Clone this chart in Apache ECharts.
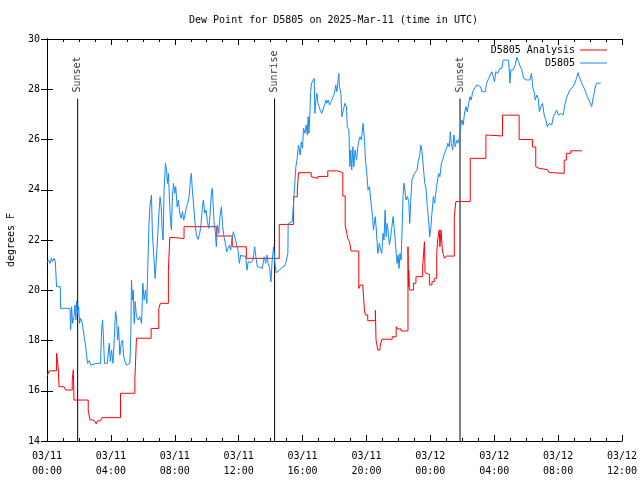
<!DOCTYPE html>
<html>
<head>
<meta charset="utf-8">
<script src="https://cdn.jsdelivr.net/npm/echarts@6/dist/echarts.min.js"></script>
<style>html,body{margin:0;padding:0;background:#fff}#c{width:640px;height:480px}</style>
</head>
<body>
<div id="c"></div>
<script>
// Hours since 03/11 00:00 UTC
const tickLabels = ['03/11\n00:00','03/11\n04:00','03/11\n08:00','03/11\n12:00','03/11\n16:00','03/11\n20:00','03/12\n00:00','03/12\n04:00','03/12\n08:00','03/12\n12:00'];
const seriesNames = ['D5805 Analysis', 'D5805'];
const eventNames = ['Sunset', 'Sunrise', 'Sunset'];
const eventHours = [1.92, 14.25, 25.86];
const eventTop = 27.63;

const analysis = [[0,16.56],[0.125,16.79],[0.6,17.49],[0.65,17.22],[0.71,16.83],[0.75,16.16],[1.06,16.23],[1.17,16.03],[1.58,16.43],[1.65,16.83],[1.69,15.63],[2.58,15.23],[2.69,14.84],[2.85,14.9],[2.94,14.77],[3.02,14.84],[3.08,14.68],[3.15,14.8],[3.35,14.84],[3.46,14.93],[4.6,15.9],[5.5,16.43],[5.6,18.09],[6.52,18.48],[7.0,19.28],[7.1,19.48],[7.6,20.8],[7.69,22.1],[7.94,22.06],[8.58,22.53],[10.6,22.16],[11.6,21.73],[12.48,21.27],[14.54,22.62],[15.44,23.72],[15.67,23.99],[15.75,24.68],[16.54,24.52],[16.65,24.45],[16.96,24.53],[17.58,24.75],[18.21,24.68],[18.52,23.75],[18.67,22.6],[18.77,22.26],[18.83,22.06],[18.94,21.93],[19.04,21.56],[19.52,20.07],[19.62,20.21],[19.77,20.2],[19.88,19.15],[19.94,19.02],[20.08,18.79],[20.56,19.2],[20.6,18.02],[20.71,17.62],[20.85,17.75],[20.96,18.05],[21.61,18.15],[21.86,18.55],[21.96,18.46],[22.17,18.38],[22.6,21.73],[22.63,20.14],[22.65,20.8],[22.69,20.01],[22.94,20.28],[23.1,20.54],[23.52,20.94],[23.63,21.93],[23.67,20.7],[23.73,20.63],[23.94,20.21],[24.1,20.34],[24.25,20.48],[24.4,21.47],[24.46,22.0],[24.56,22.4],[24.6,21.73],[24.67,22.4],[24.73,21.8],[24.77,21.53],[24.88,21.27],[24.98,21.36],[25.5,22.93],[25.6,23.53],[26.5,25.25],[27.48,26.18],[27.58,26.14],[28.52,26.97],[29.56,26.0],[30.4,25.7],[30.6,24.92],[30.65,24.85],[30.81,24.8],[31.33,24.76],[31.44,24.68],[31.65,24.65],[32.38,25.18],[32.52,25.45],[32.79,25.55],[33.5,25.55]];

const station = [[0.0,21.1],[0.1,21.2],[0.19,21.07],[0.27,21.27],[0.35,21.14],[0.44,21.27],[0.52,21.14],[0.58,21.14],[0.6,20.14],[0.83,20.14],[0.85,19.28],[1.44,19.28],[1.48,18.42],[1.54,19.35],[1.6,18.68],[1.69,18.95],[1.75,19.41],[1.81,18.82],[1.85,19.57],[1.92,19.08],[1.98,19.35],[2.04,18.68],[2.1,18.88],[2.19,18.75],[2.27,18.82],[2.33,18.15],[2.42,17.75],[2.48,17.42],[2.54,17.09],[2.65,17.2],[2.73,17.02],[2.94,17.06],[3.15,17.09],[3.35,17.09],[3.42,18.42],[3.48,18.82],[3.54,18.02],[3.6,17.09],[3.77,17.09],[3.9,17.89],[3.96,17.16],[4.04,17.62],[4.13,17.09],[4.21,18.02],[4.29,19.15],[4.35,18.95],[4.42,18.02],[4.48,18.55],[4.56,17.42],[4.65,17.89],[4.73,18.02],[4.79,17.42],[4.88,17.16],[4.98,17.02],[5.1,16.98],[5.19,17.09],[5.25,18.29],[5.29,20.41],[5.35,19.61],[5.4,20.01],[5.46,18.68],[5.52,19.55],[5.6,18.95],[5.71,18.82],[5.81,18.95],[5.92,18.68],[6.0,20.28],[6.08,19.61],[6.17,20.01],[6.25,19.48],[6.31,20.94],[6.38,22.5],[6.44,23.32],[6.54,23.79],[6.6,22.26],[6.69,21.33],[6.77,20.47],[6.85,20.54],[6.94,22.26],[7.02,23.19],[7.08,23.72],[7.15,23.32],[7.21,22.4],[7.27,22.0],[7.33,23.99],[7.42,25.05],[7.48,24.78],[7.54,24.25],[7.6,24.65],[7.67,23.59],[7.73,22.79],[7.79,22.4],[7.85,23.72],[7.92,24.25],[8.0,23.86],[8.06,24.12],[8.15,23.32],[8.23,23.59],[8.31,23.06],[8.4,22.86],[8.48,23.13],[8.56,22.79],[8.65,23.06],[8.73,23.32],[8.81,23.46],[8.9,23.72],[8.98,24.39],[9.04,24.65],[9.1,23.99],[9.19,23.32],[9.27,22.66],[9.35,22.2],[9.46,22.02],[9.56,22.26],[9.65,22.66],[9.73,23.32],[9.79,23.59],[9.88,23.06],[9.96,23.19],[10.04,22.73],[10.13,22.46],[10.21,22.99],[10.29,23.86],[10.35,24.05],[10.42,23.19],[10.48,22.53],[10.54,22.33],[10.6,21.73],[10.67,22.59],[10.75,22.26],[10.83,22.93],[10.92,23.32],[11.0,22.53],[11.08,22.13],[11.17,21.87],[11.25,21.53],[11.33,21.47],[11.42,21.8],[11.5,21.6],[11.58,22.06],[11.67,22.33],[11.79,22.33],[11.88,21.8],[11.96,21.6],[12.04,21.07],[12.13,21.4],[12.27,21.36],[12.44,21.36],[12.52,20.8],[12.6,21.14],[12.77,21.1],[12.9,21.2],[13.0,21.73],[13.08,21.33],[13.17,20.94],[13.31,20.91],[13.48,20.87],[13.6,21.33],[13.69,21.07],[13.77,21.4],[13.85,21.07],[13.94,20.87],[14.02,20.34],[14.1,21.2],[14.19,21.73],[14.27,21.07],[14.35,20.7],[14.44,20.65],[14.56,20.8],[14.69,20.9],[14.85,20.95],[14.98,21.14],[15.08,21.47],[15.1,22.66],[15.19,22.73],[15.35,22.73],[15.42,23.33],[15.5,24.12],[15.58,24.92],[15.65,25.18],[15.75,25.78],[15.85,25.38],[15.92,25.91],[16.0,25.65],[16.06,26.44],[16.15,26.25],[16.23,26.58],[16.3,26.18],[16.35,26.91],[16.4,26.25],[16.46,27.04],[16.5,27.84],[16.56,28.24],[16.65,28.3],[16.73,28.43],[16.77,27.04],[16.83,27.57],[16.9,27.84],[16.96,27.44],[17.04,27.31],[17.1,27.17],[17.2,27.04],[17.3,27.11],[17.38,27.37],[17.46,27.57],[17.52,27.44],[17.6,27.57],[17.69,27.37],[17.79,27.51],[17.9,27.44],[18.0,27.84],[18.08,28.17],[18.15,27.9],[18.21,28.3],[18.27,28.63],[18.31,28.1],[18.4,27.84],[18.46,26.91],[18.58,26.97],[18.65,27.44],[18.75,27.31],[18.8,26.51],[18.9,26.38],[18.96,24.92],[19.02,25.58],[19.08,24.79],[19.15,25.71],[19.21,24.92],[19.29,25.58],[19.38,25.18],[19.46,25.71],[19.54,25.98],[19.6,26.11],[19.69,25.98],[19.79,26.64],[19.88,25.98],[19.94,25.18],[20.04,24.52],[20.1,23.99],[20.19,24.12],[20.29,23.46],[20.38,22.93],[20.44,22.4],[20.55,22.93],[20.62,22.4],[20.71,21.47],[20.81,21.87],[20.88,21.6],[20.96,21.47],[21.04,22.27],[21.1,22.0],[21.17,23.19],[21.23,22.13],[21.29,22.66],[21.35,22.4],[21.44,21.8],[21.52,22.13],[21.58,22.46],[21.67,22.93],[21.75,22.4],[21.83,21.73],[21.92,21.07],[21.98,21.4],[22.04,20.87],[22.1,21.47],[22.17,21.2],[22.23,22.4],[22.29,23.73],[22.35,24.26],[22.42,23.92],[22.48,23.59],[22.56,23.73],[22.65,23.53],[22.71,22.66],[22.77,23.53],[22.85,24.39],[22.96,24.59],[23.06,24.65],[23.17,24.79],[23.25,25.18],[23.33,25.32],[23.4,25.78],[23.48,25.52],[23.56,24.92],[23.65,24.26],[23.73,24.06],[23.81,23.33],[23.9,22.73],[23.96,22.13],[24.02,22.4],[24.1,23.06],[24.19,23.73],[24.27,23.46],[24.35,23.92],[24.44,23.99],[24.52,24.65],[24.6,24.52],[24.69,25.05],[24.77,25.18],[24.85,25.38],[24.94,25.32],[25.02,25.65],[25.1,25.85],[25.19,25.71],[25.25,26.31],[25.31,25.85],[25.4,25.58],[25.48,26.18],[25.56,25.71],[25.65,25.98],[25.73,25.85],[25.81,26.05],[25.9,26.51],[25.98,26.78],[26.06,26.58],[26.15,27.1],[26.23,27.31],[26.31,27.1],[26.4,27.44],[26.48,27.7],[26.56,27.57],[26.65,27.9],[26.77,27.97],[26.9,28.17],[27.02,28.24],[27.15,28.1],[27.23,27.9],[27.44,27.9],[27.52,28.24],[27.65,28.43],[27.77,28.5],[27.85,28.7],[27.94,28.5],[28.02,28.3],[28.1,28.7],[28.23,28.63],[28.35,28.83],[28.48,28.83],[28.56,29.16],[28.73,29.16],[28.9,29.16],[28.98,28.24],[29.04,28.77],[29.19,28.77],[29.31,28.96],[29.42,29.27],[29.52,29.1],[29.63,28.9],[29.73,28.77],[29.85,28.43],[30.02,28.37],[30.23,28.37],[30.33,28.63],[30.42,28.04],[30.5,27.9],[30.56,27.57],[30.67,27.77],[30.75,27.64],[30.83,27.1],[30.92,27.31],[31.02,27.44],[31.13,26.97],[31.23,26.78],[31.33,26.51],[31.44,26.64],[31.6,26.58],[31.71,26.91],[31.81,26.97],[31.9,27.17],[32.02,26.97],[32.17,27.04],[32.31,26.97],[32.42,27.37],[32.52,27.64],[32.63,27.7],[32.73,27.97],[32.83,28.04],[32.94,28.1],[33.04,28.24],[33.15,28.43],[33.25,28.66],[33.33,28.5],[33.44,28.3],[33.63,28.04],[33.84,27.7],[34.1,27.31],[34.21,27.7],[34.31,28.04],[34.4,28.24],[34.67,28.24]];

const FONT = 'DejaVu Sans Mono';
const chart = echarts.init(document.getElementById('c'), null, {renderer: 'canvas'});

const axisLine = {show: true, lineStyle: {color: '#000', width: 1}};
const xCommon = {type: 'value', min: 0, max: 36, interval: 4,
  axisLine: axisLine, splitLine: {show: false},
  axisTick: {show: true, inside: true, length: 6, lineStyle: {color: '#000'}},
  minorTick: {show: true, splitNumber: 4, length: 3, lineStyle: {color: '#000'}}};
const yCommon = {type: 'value', min: 14, max: 30, interval: 2,
  axisLine: axisLine, splitLine: {show: false},
  axisTick: {show: true, inside: true, length: 6, lineStyle: {color: '#000'}}};

const eventSeries = eventHours.map((t, i) => ({
  type: 'line', xAxisIndex: 0, yAxisIndex: 0, silent: true, symbol: 'none',
  lineStyle: {color: '#000', width: 1}, animation: false,
  data: [[t, eventTop], [t, 14]], z: 1
}));

const option = {
  backgroundColor: '#fff',
  animation: false,
  title: {text: 'Dew Point for D5805 on 2025-Mar-11 (time in UTC)', left: 184, top: 10,
    textStyle: {fontFamily: FONT, fontSize: 10, fontWeight: 'normal', color: '#000'}},
  legend: {data: seriesNames, orient: 'vertical', right: 28, top: 40, align: 'right',
    itemWidth: 27, itemHeight: 1, itemGap: 3, icon: 'rect',
    textStyle: {fontFamily: FONT, fontSize: 10, color: '#000'}},
  grid: {left: 47, right: 18, top: 39, bottom: 39, containLabel: false, outerBoundsMode: 'none'},
  xAxis: [
    Object.assign({}, xCommon, {position: 'bottom',
      axisLabel: {formatter: v => tickLabels[Math.round(v / 4)], fontFamily: FONT, fontSize: 10,
        color: '#000', lineHeight: 15, margin: 8}}),
    Object.assign({}, xCommon, {position: 'top', axisLabel: {show: false}})
  ],
  yAxis: [
    Object.assign({}, yCommon, {position: 'left', name: 'degrees F', nameLocation: 'middle',
      nameGap: 31, nameRotate: 90,
      nameTextStyle: {fontFamily: FONT, fontSize: 10, color: '#000'},
      axisLabel: {fontFamily: FONT, fontSize: 10, color: '#000', margin: 7}}),
    Object.assign({}, yCommon, {position: 'right', axisLabel: {show: false}})
  ],
  series: [
    ...eventSeries,
    {type: 'scatter', silent: true, symbolSize: 0, z: 5,
      data: eventHours.map((t, i) => [t, eventTop, eventNames[i]]),
      label: {show: true, position: 'top', distance: 6, rotate: 90, align: 'left', verticalAlign: 'middle',
        formatter: p => p.data[2], fontFamily: FONT, fontSize: 10, color: '#000'}},
    {name: seriesNames[0], type: 'line', step: 'end', symbol: 'none', data: analysis,
      lineStyle: {color: '#ff0000', width: 1}, itemStyle: {color: '#ff0000'}, z: 3},
    {name: seriesNames[1], type: 'line', symbol: 'none', data: station,
      lineStyle: {color: '#1789f5', width: 1}, itemStyle: {color: '#1789f5'}, z: 4}
  ]
};
chart.setOption(option);
</script>
</body>
</html>
